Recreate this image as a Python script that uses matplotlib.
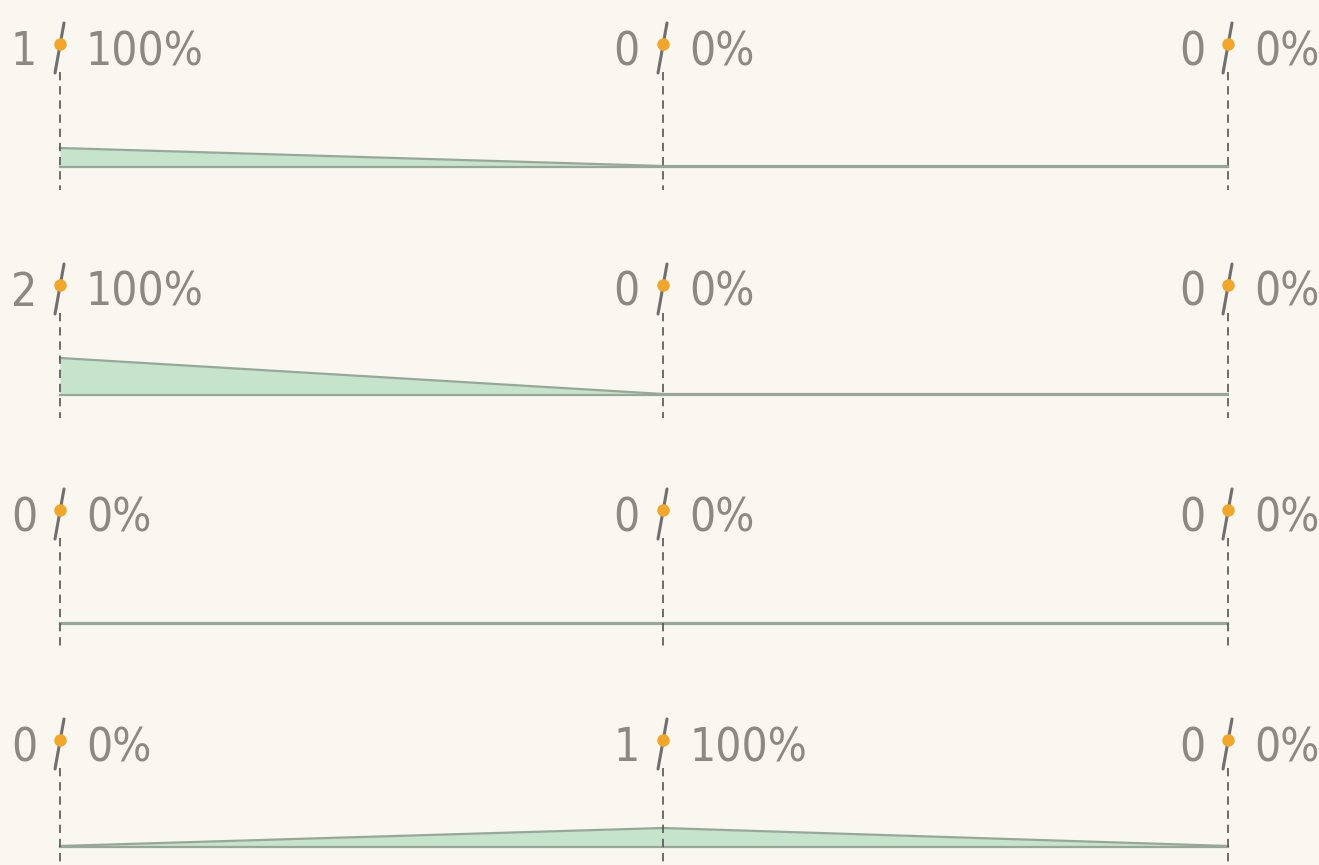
import matplotlib.pyplot as plt

# donnees : nombre / pourcentage pour chaque point de chaque ligne
comptes = [[1, 0, 0],
           [2, 0, 0],
           [0, 0, 0],
           [0, 1, 0]]
pourcents = [[100, 0, 0],
             [100, 0, 0],
             [0, 0, 0],
             [0, 100, 0]]

# mise en page (coordonnees en pixels)
x_points = [60, 663, 1228]
base_aire = [167, 395, 624, 847]
base_texte = [65, 306, 531, 761]
px_par_unite = 18

fond = '#faf6f0'
gris_texte = '#8c8883'
vert = '#c6e3cc'
bord = '#98a898'
orange = '#f2a62a'

plt.rcParams['font.family'] = ['DejaVu Sans']
police = dict(fontsize=33, color=gris_texte, fontstretch='condensed')

fig = plt.figure(figsize=(13.19, 8.65), dpi=100, facecolor=fond)
ax = fig.add_axes([0, 0, 1, 1])
ax.set_facecolor(fond)
ax.set_xlim(0, 1319)
ax.set_ylim(865, 0)
ax.axis('off')

for i in range(len(comptes)):
    y0 = base_aire[i]
    yt = base_texte[i]
    haut = [y0 - 1 - c * px_par_unite for c in comptes[i]]
    ax.fill_between(x_points, haut, [y0] * 3, color=vert, lw=0, zorder=1)
    ax.plot(x_points, haut, color=bord, lw=1.6, zorder=2)
    ax.plot(x_points, [y0] * 3, color=bord, lw=1.6, zorder=2)

    for j, x in enumerate(x_points):
        # ligne pointillee verticale
        bas = min(y0 + 23, 865)
        ax.plot([x, x], [yt + 7, bas], color='#555555', lw=1.2,
                ls=(0, (5, 3.5)), zorder=3)
        # barre oblique + point orange
        ax.plot([x - 5, x + 4], [yt + 8, yt - 42], color='#707070', lw=2.2,
                solid_capstyle='round', zorder=4)
        ax.plot(x, yt - 21, 'o', color=orange, ms=9, mec='none', zorder=5)
        ax.text(x - 23, yt, str(comptes[i][j]), ha='right', va='baseline', **police)
        ax.text(x + 26, yt, '%d%%' % pourcents[i][j], ha='left', va='baseline', **police)

plt.savefig('out.png', dpi=100, facecolor=fond)
